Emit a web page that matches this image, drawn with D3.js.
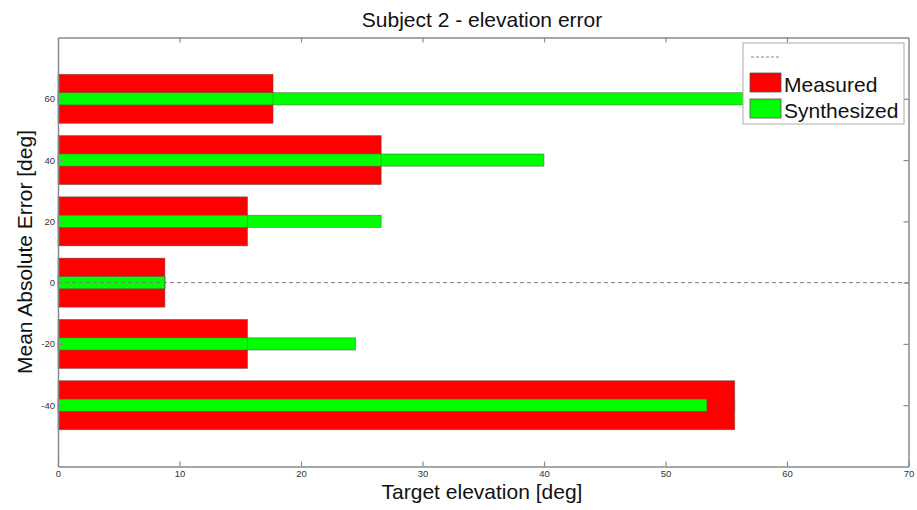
<!DOCTYPE html>
<html>
<head>
<meta charset="utf-8">
<script src="https://cdn.jsdelivr.net/npm/d3@7"></script>
<style>
  html, body { margin: 0; padding: 0; background: #fff; }
  svg { display: block; font-family: "Liberation Sans", Arial, sans-serif; }
</style>
</head>
<body>
<svg id="chart" width="917" height="510"></svg>
<script>
// Target elevations (category positions on the vertical axis)
const elevations = [60, 40, 20, 0, -20, -40];
// Mean absolute error per elevation, degrees
const measured    = [17.7, 26.6, 15.6, 8.8, 15.6, 55.7];
const synthesized = [62.0, 40.0, 26.6, 8.8, 24.5, 53.4];
const xTicks = [0, 10, 20, 30, 40, 50, 60, 70];
const yTicks = [-40, -20, 0, 20, 40, 60];
const seriesNames = ["Measured", "Synthesized"];
const seriesColors = ["#ff0000", "#00ff00"];

const svg = d3.select("#chart");
const plot = { left: 58, right: 908.5, top: 37.5, bottom: 466.5 };

const x = d3.scaleLinear().domain([0, 70]).range([plot.left, plot.right]);
const y = d3.scaleLinear().domain([-60, 80]).range([plot.bottom, plot.top]);

const wideBar = 16;   // bar thickness in elevation units
const thinBar = 4;

const axisColor = "#8a8a8a";

// plot frame
svg.append("rect")
  .attr("x", plot.left).attr("y", plot.top)
  .attr("width", plot.right - plot.left).attr("height", plot.bottom - plot.top)
  .attr("fill", "#fff");

// measured (wide) bars
svg.append("g").selectAll("rect").data(elevations).join("rect")
  .attr("x", x(0))
  .attr("y", (d) => y(d + wideBar / 2))
  .attr("width", (d, i) => x(measured[i]) - x(0))
  .attr("height", y(-wideBar / 2) - y(wideBar / 2))
  .attr("fill", seriesColors[0])
  .attr("stroke", "#555").attr("stroke-opacity", 0.6).attr("stroke-width", 0.8);

// synthesized (thin) bars
svg.append("g").selectAll("rect").data(elevations).join("rect")
  .attr("x", x(0))
  .attr("y", (d) => y(d + thinBar / 2))
  .attr("width", (d, i) => x(synthesized[i]) - x(0))
  .attr("height", y(-thinBar / 2) - y(thinBar / 2))
  .attr("fill", seriesColors[1])
  .attr("stroke", "#555").attr("stroke-opacity", 0.6).attr("stroke-width", 0.8);

// end lines of measured bars show through the thin bars
svg.append("g").selectAll("line").data(elevations).join("line")
  .attr("x1", (d, i) => x(measured[i])).attr("x2", (d, i) => x(measured[i]))
  .attr("y1", (d) => y(d + thinBar / 2)).attr("y2", (d) => y(d - thinBar / 2))
  .attr("stroke", "#555").attr("stroke-opacity", 0.45).attr("stroke-width", 0.8);

// zero reference line
svg.append("line")
  .attr("x1", plot.left).attr("x2", plot.right)
  .attr("y1", y(0)).attr("y2", y(0))
  .attr("stroke", "#777").attr("stroke-width", 1).attr("stroke-dasharray", "4,3");

// axes with inward ticks on all four sides
const fmt = (d) => String(d);
function styleAxis(g) {
  g.select(".domain").attr("stroke", axisColor).attr("stroke-width", 1.5);
  g.selectAll(".tick line").attr("stroke", axisColor).attr("stroke-width", 1.2);
  g.selectAll(".tick text").attr("fill", "#333").attr("font-size", 9.5)
    .attr("font-family", "Liberation Sans, Arial, sans-serif");
}

svg.append("g").attr("transform", `translate(0,${plot.bottom})`)
  .call(d3.axisBottom(x).tickValues(xTicks).tickFormat(fmt).tickSize(-5).tickPadding(4).tickSizeOuter(0))
  .call(styleAxis);
svg.append("g").attr("transform", `translate(0,${plot.top})`)
  .call(d3.axisTop(x).tickValues(xTicks.slice(1, -1)).tickSize(-5).tickFormat("").tickSizeOuter(0))
  .call(styleAxis);
svg.append("g").attr("transform", `translate(${plot.left},0)`)
  .call(d3.axisLeft(y).tickValues(yTicks).tickFormat(fmt).tickSize(-5).tickPadding(3).tickSizeOuter(0))
  .call(styleAxis);
svg.append("g").attr("transform", `translate(${plot.right},0)`)
  .call(d3.axisRight(y).tickValues(yTicks).tickSize(-5).tickFormat("").tickSizeOuter(0))
  .call(styleAxis);

// title and axis labels
svg.append("text")
  .attr("x", 482).attr("y", 27).attr("text-anchor", "middle")
  .attr("font-size", 21).attr("fill", "#111")
  .text("Subject 2 - elevation error");

svg.append("text")
  .attr("x", 482).attr("y", 499).attr("text-anchor", "middle")
  .attr("font-size", 21).attr("fill", "#111")
  .text("Target elevation [deg]");

svg.append("text")
  .attr("transform", "translate(32,252) rotate(-90)")
  .attr("text-anchor", "middle")
  .attr("font-size", 21).attr("fill", "#111")
  .text("Mean Absolute Error [deg]");

// legend
const legend = svg.append("g");
legend.append("rect")
  .attr("x", 743).attr("y", 43).attr("width", 161).attr("height", 81)
  .attr("fill", "#fff").attr("stroke", "#aaa").attr("stroke-width", 1);
legend.append("line")
  .attr("x1", 751).attr("x2", 781).attr("y1", 57).attr("y2", 57)
  .attr("stroke", "#888").attr("stroke-width", 1).attr("stroke-dasharray", "3,2");
seriesNames.forEach((name, i) => {
  const top = 73 + i * 26;
  legend.append("rect")
    .attr("x", 750).attr("y", top).attr("width", 31).attr("height", 19)
    .attr("fill", seriesColors[i]).attr("stroke", "#555").attr("stroke-width", 0.8);
  legend.append("text")
    .attr("x", 784).attr("y", top + 19)
    .attr("font-size", 21).attr("fill", "#111")
    .text(name);
});
</script>
</body>
</html>
